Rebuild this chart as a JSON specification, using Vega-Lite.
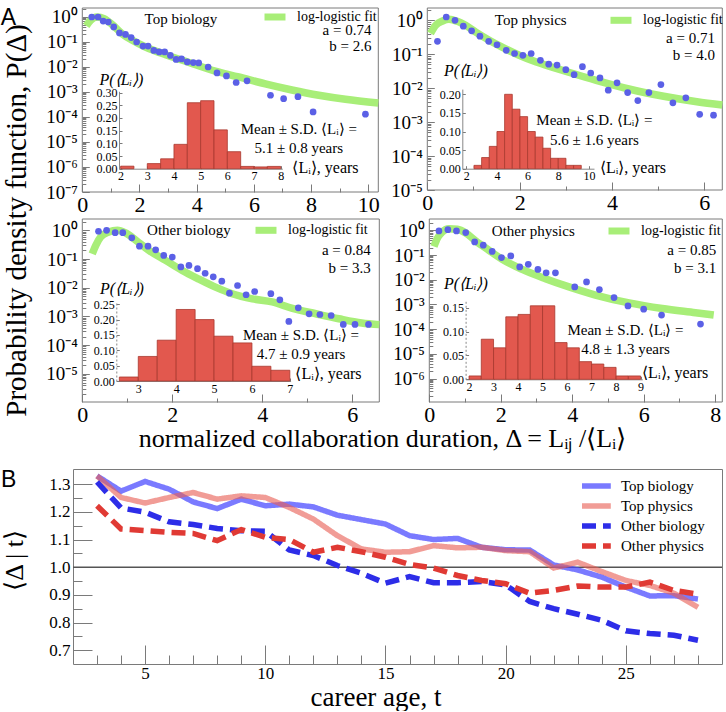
{
"$schema": "https://vega.github.io/schema/vega-lite/v6.json",
"padding": {"left": 0, "top": 0, "right": 0, "bottom": 0},
"autosize": {"type": "pad"},
"background": "white",
"config": {
  "font": "Liberation Serif",
  "view": {"stroke": "#7a7a7a", "strokeWidth": 1},
  "axis": {"domain": false, "grid": false, "labelFont": "Liberation Serif", "titleFont": "Liberation Serif", "labelColor": "#000", "titleColor": "#000", "tickColor": "#7a7a7a", "titleFontWeight": "normal", "labelOverlap": false, "labelFlush": false, "tickWidth": 1},
  "legend": {"labelFont": "Liberation Serif", "labelColor": "#000"},
  "text": {"font": "Liberation Serif", "color": "#000"},
  "title": {"font": "Liberation Sans", "fontWeight": "normal", "color": "#000"}
},
"bounds": "flush",
"spacing": 67,
"resolve": {"scale": {"color": "independent", "strokeDash": "independent"}},
"vconcat": [
 {"width": 649, "height": 394,
  "view": {"stroke": null},
  "title": {"text": "A", "orient": "top", "anchor": "start", "frame": "group", "fontSize": 23, "dx": -72.3, "dy": 47.7, "offset": 0, "baseline": "alphabetic"},
  "resolve": {"scale": {"x": "independent", "y": "independent", "color": "independent"}},
  "layer": [
   {"data": {"values": [{"b0":2,"b1":2.5,"h":0.01},{"b0":3,"b1":3.5,"h":0.02},{"b0":3.5,"b1":4,"h":0.039},{"b0":4,"b1":4.5,"h":0.096},{"b0":4.5,"b1":5,"h":0.26},{"b0":5,"b1":5.5,"h":0.268},{"b0":5.5,"b1":6,"h":0.153},{"b0":6,"b1":6.5,"h":0.067},{"b0":6.5,"b1":7,"h":0.009},{"b0":7,"b1":7.5,"h":0.007},{"b0":7.5,"b1":8,"h":0.009}]},
    "mark": {"type": "rect", "fill": "#e2584e", "stroke": "#a8382f", "strokeWidth": 0.8},
    "encoding": {
     "x": {"field": "b0", "type": "quantitative", "scale": {"domain": [1.94, 8.06], "range": [46, 209.3], "nice": false, "zero": false},
           "axis": {"orient": "bottom", "offset": -233.3, "values": [2,3,4,5,6,7,8], "format": "d", "domain": true, "domainColor": "#888", "tickSize": -3, "labelPadding": 5, "labelFontSize": 12, "labelOverlap": false, "title": "⟨Lᵢ⟩, years", "titleX": 252, "titleY": -1.7, "titleFontSize": 16, "titleAngle": 0, "titleAlign": "center", "titleBaseline": "middle"}},
     "x2": {"field": "b1"},
     "y": {"field": "h", "type": "quantitative", "scale": {"domain": [0, 0.305], "range": [160.7, 83.3], "nice": false, "zero": false},
           "axis": {"orient": "left", "offset": -46, "values": [0,0.05,0.1,0.15,0.2,0.25,0.3], "format": ".2f", "domain": true, "domainColor": "#888", "tickSize": -3, "labelPadding": 5, "labelFontSize": 12, "labelOverlap": false, "title": "P(⟨Lᵢ⟩)", "titleFontStyle": "italic", "titleX": 2, "titleY": 71, "titleFontSize": 16, "titleAngle": 0, "titleAlign": "center", "titleBaseline": "middle"}},
     "y2": {"datum": 0}
    }},
   {"layer": [
    {"data": {"values": [{}]}, "mark": {"type": "rect", "fill": "transparent", "stroke": "#7a7a7a", "strokeWidth": 1},
     "encoding": {"x": {"datum": 0}, "x2": {"datum": 10.35}, "y": {"datum": 1e-7}, "y2": {"datum": 2.29}}},
    {"data": {"values": [{"d":0.14,"p":0.44},{"d":0.29,"p":0.74},{"d":0.52,"p":1.0},{"d":0.76,"p":0.86},{"d":1.05,"p":0.49},{"d":1.4,"p":0.21},{"d":1.75,"p":0.117},{"d":2.21,"p":0.063},{"d":2.91,"p":0.031},{"d":3.61,"p":0.017},{"d":4.54,"p":0.0074},{"d":5.47,"p":0.004},{"d":6.4,"p":0.0021},{"d":7.33,"p":0.0012},{"d":8.27,"p":0.00074},{"d":9.2,"p":0.00051},{"d":10.35,"p":0.00036}]},
     "mark": {"type": "line", "strokeWidth": 7.5, "interpolate": "monotone"},
     "encoding": {
      "x": {"field": "d", "type": "quantitative", "scale": {"domain": [0, 10.35], "range": [9.3, 305.3], "nice": false, "zero": false},
            "axis": {"orient": "bottom", "offset": -210, "values": [0,1,2,3,4,5,6,7,8,9,10], "format": "d", "labelExpr": "datum.value % 2 == 0 ? datum.label : ''", "tickSize": {"condition": {"test": "datum.value % 2 == 0", "value": -8}, "value": -4}, "labelPadding": 10, "labelFontSize": 22, "labelOverlap": false, "title": null}},
      "y": {"field": "p", "type": "quantitative", "scale": {"type": "log", "domain": [1e-7, 2.29], "range": [184, 0], "nice": false},
            "axis": {"orient": "left", "offset": -9.3, "values": [1e-7,2e-7,3e-7,4e-7,5e-7,6e-7,7e-7,8e-7,9e-7,1e-6,2e-6,3e-6,4e-6,5e-6,6e-6,7e-6,8e-6,9e-6,1e-5,2e-5,3e-5,4e-5,5e-5,6e-5,7e-5,8e-5,9e-5,1e-4,2e-4,3e-4,4e-4,5e-4,6e-4,7e-4,8e-4,9e-4,0.001,0.002,0.003,0.004,0.005,0.006,0.007,0.008,0.009,0.01,0.02,0.03,0.04,0.05,0.06,0.07,0.08,0.09,0.1,0.2,0.3,0.4,0.5,0.6,0.7,0.8,0.9,1,2],
                     "labelExpr": "abs(log(datum.value)/LN10-round(log(datum.value)/LN10))<0.001 ? ['10⁰','10⁻¹','10⁻²','10⁻³','10⁻⁴','10⁻⁵','10⁻⁶','10⁻⁷'][-round(log(datum.value)/LN10)] : ''",
                     "tickSize": {"condition": {"test": "abs(log(datum.value)/LN10-round(log(datum.value)/LN10))<0.001", "value": -7}, "value": -3.5},
                     "labelPadding": 12, "labelFontSize": 19, "labelOverlap": false,
                     "title": "Probability density function, P(Δ)", "titleX": -66.3, "titleY": 212, "titleFontSize": 29, "titleAngle": -90, "titleAlign": "center", "titleBaseline": "middle"}},
      "color": {"datum": "log-logistic fit", "scale": {"range": ["#a8ee78"]},
                "legend": {"title": null, "orient": "none", "legendX": 188, "legendY": -5, "symbolType": "stroke", "symbolStrokeWidth": 7, "symbolSize": 441, "labelFontSize": 14, "labelOffset": 8, "padding": 0}}
     }},
    {"data": {"values": [{"d":0.33,"p":1.0},{"d":0.55,"p":1.0},{"d":0.73,"p":0.69},{"d":0.91,"p":0.63},{"d":1.1,"p":0.4},{"d":1.3,"p":0.23},{"d":1.51,"p":0.2},{"d":1.71,"p":0.15},{"d":1.9,"p":0.1},{"d":2.12,"p":0.069},{"d":2.3,"p":0.069},{"d":2.5,"p":0.046},{"d":2.69,"p":0.04},{"d":2.88,"p":0.04},{"d":3.08,"p":0.029},{"d":3.28,"p":0.02},{"d":3.47,"p":0.021},{"d":3.67,"p":0.016},{"d":3.88,"p":0.015},{"d":4.07,"p":0.0145},{"d":4.4,"p":0.01},{"d":4.71,"p":0.0058},{"d":5.04,"p":0.0044},{"d":5.38,"p":0.0024},{"d":5.76,"p":0.0028},{"d":6.58,"p":0.00074},{"d":7.04,"p":0.00054},{"d":7.54,"p":0.00065},{"d":8.07,"p":0.00016},{"d":9.9,"p":0.00013}]},
     "mark": {"type": "circle", "size": 45, "fill": "#5b60e6", "opacity": 1},
     "encoding": {"x": {"field": "d", "type": "quantitative"}, "y": {"field": "p", "type": "quantitative"}}},
    {"data": {"values": [{}]}, "mark": {"type": "text", "fontSize": 15, "align": "center", "baseline": "middle"},
     "encoding": {"x": {"datum": 3.45}, "y": {"datum": 0.83}, "text": {"value": "Top biology"}}},
    {"data": {"values": [{}]}, "mark": {"type": "text", "fontSize": 15, "align": "right", "baseline": "middle", "lineHeight": 16},
     "encoding": {"x": {"datum": 10.11}, "y": {"datum": 0.3}, "text": {"value": ["a = 0.74", "b = 2.6"]}}},
    {"data": {"values": [{}]}, "mark": {"type": "text", "fontSize": 15, "align": "center", "baseline": "middle", "lineHeight": 19},
     "encoding": {"x": {"datum": 7.57}, "y": {"datum": 3.3e-5}, "text": {"value": ["Mean ± S.D. ⟨Lᵢ⟩ =", "5.1 ± 0.8 years"]}}}
   ]},
   {"data": {"values": [{"b0":2.5,"b1":3,"h":0.009},{"b0":3,"b1":3.5,"h":0.03},{"b0":3.5,"b1":4,"h":0.06},{"b0":4,"b1":4.5,"h":0.1},{"b0":4.5,"b1":5,"h":0.2},{"b0":5,"b1":5.5,"h":0.16},{"b0":5.5,"b1":6,"h":0.14},{"b0":6,"b1":6.5,"h":0.1},{"b0":6.5,"b1":7,"h":0.085},{"b0":7,"b1":7.5,"h":0.055},{"b0":7.5,"b1":8,"h":0.028},{"b0":8,"b1":8.5,"h":0.028},{"b0":8.5,"b1":9,"h":0.009},{"b0":9,"b1":9.5,"h":0.009}]},
    "mark": {"type": "rect", "fill": "#e2584e", "stroke": "#a8382f", "strokeWidth": 0.8},
    "encoding": {
     "x": {"field": "b0", "type": "quantitative", "scale": {"domain": [1.74, 10.33], "range": [389.3, 521], "nice": false, "zero": false},
           "axis": {"orient": "bottom", "offset": -233.3, "values": [2,4,6,8,10], "format": "d", "domain": true, "domainColor": "#888", "tickSize": -3, "labelPadding": 5, "labelFontSize": 12, "labelOverlap": false, "title": "⟨Lᵢ⟩, years", "titleX": 559.5, "titleY": -1.7, "titleFontSize": 16, "titleAngle": 0, "titleAlign": "center", "titleBaseline": "middle"}},
     "x2": {"field": "b1"},
     "y": {"field": "h", "type": "quantitative", "scale": {"domain": [0, 0.214], "range": [160.7, 81.1], "nice": false, "zero": false},
           "axis": {"orient": "left", "offset": -389.3, "values": [0,0.05,0.1,0.15,0.2], "format": ".2f", "domain": true, "domainColor": "#888", "tickSize": -3, "labelPadding": 5, "labelFontSize": 12, "labelOverlap": false, "title": "P(⟨Lᵢ⟩)", "titleFontStyle": "italic", "titleX": 3, "titleY": 62.3, "titleFontSize": 16, "titleAngle": 0, "titleAlign": "center", "titleBaseline": "middle"}},
     "y2": {"datum": 0}
    }},
   {"layer": [
    {"data": {"values": [{}]}, "mark": {"type": "rect", "fill": "transparent", "stroke": "#7a7a7a", "strokeWidth": 1},
     "encoding": {"x": {"datum": 0}, "x2": {"datum": 6.39}, "y": {"datum": 1e-5}, "y2": {"datum": 2.3}}},
    {"data": {"values": [{"d":0.07,"p":0.41},{"d":0.18,"p":0.71},{"d":0.33,"p":0.95},{"d":0.47,"p":1.07},{"d":0.65,"p":0.93},{"d":0.83,"p":0.71},{"d":1.05,"p":0.45},{"d":1.34,"p":0.26},{"d":1.63,"p":0.16},{"d":1.99,"p":0.093},{"d":2.36,"p":0.059},{"d":2.72,"p":0.041},{"d":3.08,"p":0.029},{"d":3.66,"p":0.017},{"d":4.39,"p":0.0093},{"d":5.12,"p":0.0058},{"d":5.84,"p":0.004},{"d":6.39,"p":0.0032}]},
     "mark": {"type": "line", "strokeWidth": 7.5, "interpolate": "monotone"},
     "encoding": {
      "x": {"field": "d", "type": "quantitative", "scale": {"domain": [0, 6.39], "range": [354.3, 649.3], "nice": false, "zero": false},
            "axis": {"orient": "bottom", "offset": -212, "values": [0,1,2,3,4,5,6], "format": "d", "labelExpr": "datum.value % 2 == 0 ? datum.label : ''", "tickSize": {"condition": {"test": "datum.value % 2 == 0", "value": -8}, "value": -4}, "labelPadding": 10, "labelFontSize": 22, "labelOverlap": false, "title": null}},
      "y": {"field": "p", "type": "quantitative", "scale": {"type": "log", "domain": [1e-5, 2.3], "range": [182, 0], "nice": false},
            "axis": {"orient": "left", "offset": -354.3, "values": [1e-5,2e-5,3e-5,4e-5,5e-5,6e-5,7e-5,8e-5,9e-5,1e-4,2e-4,3e-4,4e-4,5e-4,6e-4,7e-4,8e-4,9e-4,0.001,0.002,0.003,0.004,0.005,0.006,0.007,0.008,0.009,0.01,0.02,0.03,0.04,0.05,0.06,0.07,0.08,0.09,0.1,0.2,0.3,0.4,0.5,0.6,0.7,0.8,0.9,1,2],
                     "labelExpr": "abs(log(datum.value)/LN10-round(log(datum.value)/LN10))<0.001 ? ['10⁰','10⁻¹','10⁻²','10⁻³','10⁻⁴','10⁻⁵','10⁻⁶','10⁻⁷'][-round(log(datum.value)/LN10)] : ''",
                     "tickSize": {"condition": {"test": "abs(log(datum.value)/LN10-round(log(datum.value)/LN10))<0.001", "value": -7}, "value": -3.5},
                     "labelPadding": 12, "labelFontSize": 19, "labelOverlap": false, "title": null}},
      "color": {"datum": "log-logistic fit", "scale": {"range": ["#a8ee78"]},
                "legend": {"title": null, "orient": "none", "legendX": 534, "legendY": -1.7, "symbolType": "stroke", "symbolStrokeWidth": 7, "symbolSize": 441, "labelFontSize": 14, "labelOffset": 8, "padding": 0}}
     }},
    {"data": {"values": [{"d":0.22,"p":0.24},{"d":0.41,"p":1.25},{"d":0.6,"p":1.0},{"d":0.78,"p":0.67},{"d":0.96,"p":0.49},{"d":1.14,"p":0.34},{"d":1.33,"p":0.24},{"d":1.51,"p":0.19},{"d":1.71,"p":0.13},{"d":1.89,"p":0.105},{"d":2.07,"p":0.093},{"d":2.25,"p":0.105},{"d":2.45,"p":0.066},{"d":2.63,"p":0.051},{"d":2.81,"p":0.048},{"d":3.0,"p":0.035},{"d":3.18,"p":0.025},{"d":3.36,"p":0.043},{"d":3.54,"p":0.028},{"d":3.74,"p":0.02},{"d":3.92,"p":0.0087},{"d":4.11,"p":0.0144},{"d":4.34,"p":0.0074},{"d":4.56,"p":0.0043},{"d":4.8,"p":0.0074},{"d":5.06,"p":0.0128},{"d":5.32,"p":0.0037},{"d":5.6,"p":0.0052},{"d":5.9,"p":0.0017},{"d":6.2,"p":0.0016}]},
     "mark": {"type": "circle", "size": 45, "fill": "#5b60e6", "opacity": 1},
     "encoding": {"x": {"field": "d", "type": "quantitative"}, "y": {"field": "p", "type": "quantitative"}}},
    {"data": {"values": [{}]}, "mark": {"type": "text", "fontSize": 15, "align": "center", "baseline": "middle"},
     "encoding": {"x": {"datum": 2.24}, "y": {"datum": 1.0}, "text": {"value": "Top physics"}}},
    {"data": {"values": [{}]}, "mark": {"type": "text", "fontSize": 15, "align": "right", "baseline": "middle", "lineHeight": 17},
     "encoding": {"x": {"datum": 6.23}, "y": {"datum": 0.3}, "text": {"value": ["a = 0.71", "b = 4.0"]}}},
    {"data": {"values": [{}]}, "mark": {"type": "text", "fontSize": 15, "align": "center", "baseline": "middle", "lineHeight": 20},
     "encoding": {"x": {"datum": 3.62}, "y": {"datum": 1.17e-3}, "text": {"value": ["Mean ± S.D. ⟨Lᵢ⟩ =", "5.6 ± 1.6 years"]}}}
   ]},
   {"data": {"values": [{"b0":2.5,"b1":3,"h":0.013},{"b0":3,"b1":3.5,"h":0.08},{"b0":3.5,"b1":4,"h":0.133},{"b0":4,"b1":4.5,"h":0.233},{"b0":4.5,"b1":5,"h":0.2},{"b0":5,"b1":5.5,"h":0.146},{"b0":5.5,"b1":6,"h":0.124},{"b0":6,"b1":6.5,"h":0.048},{"b0":6.5,"b1":7,"h":0.035}]},
    "mark": {"type": "rect", "fill": "#e2584e", "stroke": "#a8382f", "strokeWidth": 0.8},
    "encoding": {
     "x": {"field": "b0", "type": "quantitative", "scale": {"domain": [2.42, 7.02], "range": [43.3, 217.6], "nice": false, "zero": false},
           "axis": {"orient": "bottom", "offset": -21, "values": [3,4,5,6,7], "format": "d", "domain": true, "domainColor": "#888", "tickSize": -3, "labelPadding": 5, "labelFontSize": 12, "labelOverlap": false, "title": "⟨Lᵢ⟩, years", "titleX": 255, "titleY": -7.3, "titleFontSize": 16, "titleAngle": 0, "titleAlign": "center", "titleBaseline": "middle"}},
     "x2": {"field": "b1"},
     "y": {"field": "h", "type": "quantitative", "scale": {"domain": [0, 0.258], "range": [373, 293.8], "nice": false, "zero": false},
           "axis": {"orient": "left", "offset": -43.3, "values": [0,0.05,0.1,0.15,0.2,0.25], "format": ".2f", "domain": true, "domainColor": "#888", "domainDash": [2,2], "tickSize": -3, "labelPadding": 5, "labelFontSize": 12, "labelOverlap": false, "title": "P(⟨Lᵢ⟩)", "titleFontStyle": "italic", "titleX": 5.2, "titleY": 280.7, "titleFontSize": 16, "titleAngle": 0, "titleAlign": "center", "titleBaseline": "middle"}},
     "y2": {"datum": 0}
    }},
   {"layer": [
    {"data": {"values": [{}]}, "mark": {"type": "rect", "fill": "transparent", "stroke": "#7a7a7a", "strokeWidth": 1},
     "encoding": {"x": {"datum": 0}, "x2": {"datum": 6.6}, "y": {"datum": 1.05e-6}, "y2": {"datum": 2.48}}},
    {"data": {"values": [{"d":0.22,"p":0.15},{"d":0.3,"p":0.3},{"d":0.41,"p":0.59},{"d":0.59,"p":0.87},{"d":0.78,"p":1.0},{"d":0.96,"p":0.81},{"d":1.19,"p":0.45},{"d":1.48,"p":0.2},{"d":1.85,"p":0.09},{"d":2.22,"p":0.04},{"d":2.59,"p":0.02},{"d":2.96,"p":0.0105},{"d":3.33,"p":0.0062},{"d":3.78,"p":0.0041},{"d":4.22,"p":0.0032},{"d":4.67,"p":0.0019},{"d":5.19,"p":0.00124},{"d":5.7,"p":0.00083},{"d":6.21,"p":0.00059},{"d":6.6,"p":0.00052}]},
     "mark": {"type": "line", "strokeWidth": 7.5, "interpolate": "monotone"},
     "encoding": {
      "x": {"field": "d", "type": "quantitative", "scale": {"domain": [0, 6.6], "range": [9.3, 306.3], "nice": false, "zero": false},
            "axis": {"orient": "bottom", "offset": 0, "values": [0,1,2,3,4,5,6], "format": "d", "labelExpr": "datum.value % 2 == 0 ? datum.label : ''", "tickSize": {"condition": {"test": "datum.value % 2 == 0", "value": -8}, "value": -4}, "labelPadding": 10, "labelFontSize": 22, "labelOverlap": false,
                     "title": "normalized collaboration duration, Δ = Lᵢⱼ /⟨Lᵢ⟩", "titleX": 309, "titleY": 36.7, "titleFontSize": 26, "titleAlign": "center", "titleBaseline": "middle"}},
      "y": {"field": "p", "type": "quantitative", "scale": {"type": "log", "domain": [1.05e-6, 2.48], "range": [394, 211], "nice": false},
            "axis": {"orient": "left", "offset": -9.3, "values": [2e-6,3e-6,4e-6,5e-6,6e-6,7e-6,8e-6,9e-6,1e-5,2e-5,3e-5,4e-5,5e-5,6e-5,7e-5,8e-5,9e-5,1e-4,2e-4,3e-4,4e-4,5e-4,6e-4,7e-4,8e-4,9e-4,0.001,0.002,0.003,0.004,0.005,0.006,0.007,0.008,0.009,0.01,0.02,0.03,0.04,0.05,0.06,0.07,0.08,0.09,0.1,0.2,0.3,0.4,0.5,0.6,0.7,0.8,0.9,1,2],
                     "labelExpr": "abs(log(datum.value)/LN10-round(log(datum.value)/LN10))<0.001 ? ['10⁰','10⁻¹','10⁻²','10⁻³','10⁻⁴','10⁻⁵','10⁻⁶','10⁻⁷'][-round(log(datum.value)/LN10)] : ''",
                     "tickSize": {"condition": {"test": "abs(log(datum.value)/LN10-round(log(datum.value)/LN10))<0.001", "value": -7}, "value": -3.5},
                     "labelPadding": 12, "labelFontSize": 19, "labelOverlap": false, "title": null}},
      "color": {"datum": "log-logistic fit", "scale": {"range": ["#a8ee78"]},
                "legend": {"title": null, "orient": "none", "legendX": 179, "legendY": 208.3, "symbolType": "stroke", "symbolStrokeWidth": 7, "symbolSize": 441, "labelFontSize": 14, "labelOffset": 8, "padding": 0}}
     }},
    {"data": {"values": [{"d":0.36,"p":0.93},{"d":0.54,"p":1.0},{"d":0.73,"p":0.83},{"d":0.9,"p":0.83},{"d":1.1,"p":0.55},{"d":1.27,"p":0.28},{"d":1.46,"p":0.28},{"d":1.63,"p":0.21},{"d":1.81,"p":0.134},{"d":2.0,"p":0.117},{"d":2.19,"p":0.053},{"d":2.37,"p":0.06},{"d":2.56,"p":0.046},{"d":2.73,"p":0.032},{"d":2.91,"p":0.024},{"d":3.1,"p":0.017},{"d":3.27,"p":0.0065},{"d":3.45,"p":0.012},{"d":3.64,"p":0.0057},{"d":3.83,"p":0.0074},{"d":4.19,"p":0.0062},{"d":4.39,"p":0.0038},{"d":4.59,"p":0.00067},{"d":4.8,"p":0.002},{"d":5.04,"p":0.00124},{"d":5.28,"p":0.00117},{"d":5.53,"p":0.00108},{"d":5.8,"p":0.00053},{"d":6.06,"p":0.00053},{"d":6.36,"p":0.00053}]},
     "mark": {"type": "circle", "size": 45, "fill": "#5b60e6", "opacity": 1},
     "encoding": {"x": {"field": "d", "type": "quantitative"}, "y": {"field": "p", "type": "quantitative"}}},
    {"data": {"values": [{}]}, "mark": {"type": "text", "fontSize": 15, "align": "center", "baseline": "middle"},
     "encoding": {"x": {"datum": 2.37}, "y": {"datum": 1.0}, "text": {"value": "Other biology"}}},
    {"data": {"values": [{}]}, "mark": {"type": "text", "fontSize": 15, "align": "right", "baseline": "middle", "lineHeight": 18},
     "encoding": {"x": {"datum": 6.41}, "y": {"datum": 0.2}, "text": {"value": ["a = 0.84", "b = 3.3"]}}},
    {"data": {"values": [{}]}, "mark": {"type": "text", "fontSize": 15, "align": "center", "baseline": "middle", "lineHeight": 19},
     "encoding": {"x": {"datum": 4.86}, "y": {"datum": 2.2e-4}, "text": {"value": ["Mean ± S.D. ⟨Lᵢ⟩ =", "4.7 ± 0.9 years"]}}}
   ]},
   {"data": {"values": [{"b0":2,"b1":2.5,"h":0.007},{"b0":2.5,"b1":3,"h":0.084},{"b0":3,"b1":3.5,"h":0.066},{"b0":3.5,"b1":4,"h":0.131},{"b0":4,"b1":4.5,"h":0.136},{"b0":4.5,"b1":5,"h":0.154},{"b0":5,"b1":5.5,"h":0.154},{"b0":5.5,"b1":6,"h":0.077},{"b0":6,"b1":6.5,"h":0.066},{"b0":6.5,"b1":7,"h":0.037},{"b0":7,"b1":7.5,"h":0.032},{"b0":7.5,"b1":8,"h":0.025},{"b0":8,"b1":8.5,"h":0.007},{"b0":8.5,"b1":9,"h":0.007}]},
    "mark": {"type": "rect", "fill": "#e2584e", "stroke": "#a8382f", "strokeWidth": 0.8},
    "encoding": {
     "x": {"field": "b0", "type": "quantitative", "scale": {"domain": [1.86, 9.07], "range": [392.6, 569.3], "nice": false, "zero": false},
           "axis": {"orient": "bottom", "offset": -22.7, "values": [2,3,4,5,6,7,8,9], "format": "d", "domain": true, "domainColor": "#888", "tickSize": -3, "labelPadding": 5, "labelFontSize": 12, "labelOverlap": false, "title": "⟨Lᵢ⟩, years", "titleX": 601.7, "titleY": -6.6, "titleFontSize": 16, "titleAngle": 0, "titleAlign": "center", "titleBaseline": "middle"}},
     "x2": {"field": "b1"},
     "y": {"field": "h", "type": "quantitative", "scale": {"domain": [0, 0.166], "range": [371.3, 292.1], "nice": false, "zero": false},
           "axis": {"orient": "left", "offset": -392.6, "values": [0,0.05,0.1,0.15], "format": ".2f", "domain": true, "domainColor": "#888", "domainDash": [2,2], "tickSize": -3, "labelPadding": 5, "labelFontSize": 12, "labelOverlap": false, "title": "P(⟨Lᵢ⟩)", "titleFontStyle": "italic", "titleX": -0.3, "titleY": 275.7, "titleFontSize": 16, "titleAngle": 0, "titleAlign": "center", "titleBaseline": "middle"}},
     "y2": {"datum": 0}
    }},
   {"layer": [
    {"data": {"values": [{}]}, "mark": {"type": "rect", "fill": "transparent", "stroke": "#7a7a7a", "strokeWidth": 1},
     "encoding": {"x": {"datum": 0}, "x2": {"datum": 8.2}, "y": {"datum": 1.12e-7}, "y2": {"datum": 2.87}}},
    {"data": {"values": [{"d":0.13,"p":0.22},{"d":0.22,"p":0.46},{"d":0.36,"p":0.85},{"d":0.55,"p":1.17},{"d":0.78,"p":1.1},{"d":1.02,"p":0.78},{"d":1.3,"p":0.37},{"d":1.67,"p":0.155},{"d":2.04,"p":0.067},{"d":2.6,"p":0.026},{"d":3.25,"p":0.011},{"d":3.91,"p":0.0051},{"d":4.65,"p":0.0024},{"d":5.59,"p":0.00115},{"d":6.52,"p":0.00068},{"d":7.45,"p":0.00046},{"d":7.96,"p":0.00037}]},
     "mark": {"type": "line", "strokeWidth": 7.5, "interpolate": "monotone"},
     "encoding": {
      "x": {"field": "d", "type": "quantitative", "scale": {"domain": [0, 8.2], "range": [356.3, 649.3], "nice": false, "zero": false},
            "axis": {"orient": "bottom", "offset": 0, "values": [0,1,2,3,4,5,6,7,8], "format": "d", "labelExpr": "datum.value % 2 == 0 ? datum.label : ''", "tickSize": {"condition": {"test": "datum.value % 2 == 0", "value": -8}, "value": -4}, "labelPadding": 10, "labelFontSize": 22, "labelOverlap": false, "title": null}},
      "y": {"field": "p", "type": "quantitative", "scale": {"type": "log", "domain": [1.12e-7, 2.87], "range": [394, 211], "nice": false},
            "axis": {"orient": "left", "offset": -356.3, "values": [2e-7,3e-7,4e-7,5e-7,6e-7,7e-7,8e-7,9e-7,1e-6,2e-6,3e-6,4e-6,5e-6,6e-6,7e-6,8e-6,9e-6,1e-5,2e-5,3e-5,4e-5,5e-5,6e-5,7e-5,8e-5,9e-5,1e-4,2e-4,3e-4,4e-4,5e-4,6e-4,7e-4,8e-4,9e-4,0.001,0.002,0.003,0.004,0.005,0.006,0.007,0.008,0.009,0.01,0.02,0.03,0.04,0.05,0.06,0.07,0.08,0.09,0.1,0.2,0.3,0.4,0.5,0.6,0.7,0.8,0.9,1,2],
                     "labelExpr": "abs(log(datum.value)/LN10-round(log(datum.value)/LN10))<0.001 ? ['10⁰','10⁻¹','10⁻²','10⁻³','10⁻⁴','10⁻⁵','10⁻⁶','10⁻⁷'][-round(log(datum.value)/LN10)] : ''",
                     "tickSize": {"condition": {"test": "abs(log(datum.value)/LN10-round(log(datum.value)/LN10))<0.001", "value": -7}, "value": -3.5},
                     "labelPadding": 12, "labelFontSize": 19, "labelOverlap": false, "title": null}},
      "color": {"datum": "log-logistic fit", "scale": {"range": ["#a8ee78"]},
                "legend": {"title": null, "orient": "none", "legendX": 532, "legendY": 209, "symbolType": "stroke", "symbolStrokeWidth": 7, "symbolSize": 441, "labelFontSize": 14, "labelOffset": 8, "padding": 0}}
     }},
    {"data": {"values": [{"d":0.27,"p":0.94},{"d":0.52,"p":1.06},{"d":0.76,"p":0.94},{"d":1.02,"p":0.81},{"d":1.27,"p":0.34},{"d":1.51,"p":0.25},{"d":1.76,"p":0.14},{"d":2.02,"p":0.079},{"d":2.28,"p":0.092},{"d":2.53,"p":0.033},{"d":2.77,"p":0.042},{"d":3.04,"p":0.026},{"d":3.27,"p":0.019},{"d":3.53,"p":0.019},{"d":4.07,"p":0.0051},{"d":4.4,"p":0.0081},{"d":4.76,"p":0.004},{"d":5.17,"p":0.0019},{"d":5.56,"p":0.00087},{"d":6.0,"p":0.00064},{"d":6.5,"p":0.00037},{"d":7.59,"p":0.00016}]},
     "mark": {"type": "circle", "size": 45, "fill": "#5b60e6", "opacity": 1},
     "encoding": {"x": {"field": "d", "type": "quantitative"}, "y": {"field": "p", "type": "quantitative"}}},
    {"data": {"values": [{}]}, "mark": {"type": "text", "fontSize": 15, "align": "center", "baseline": "middle"},
     "encoding": {"x": {"datum": 2.91}, "y": {"datum": 0.93}, "text": {"value": "Other physics"}}},
    {"data": {"values": [{}]}, "mark": {"type": "text", "fontSize": 15, "align": "right", "baseline": "middle", "lineHeight": 18},
     "encoding": {"x": {"datum": 8.03}, "y": {"datum": 0.155}, "text": {"value": ["a = 0.85", "b = 3.1"]}}},
    {"data": {"values": [{}]}, "mark": {"type": "text", "fontSize": 15, "align": "center", "baseline": "middle", "lineHeight": 19},
     "encoding": {"x": {"datum": 5.49}, "y": {"datum": 8.9e-5}, "text": {"value": ["Mean ± S.D. ⟨Lᵢ⟩ =", "4.8 ± 1.3 years"]}}}
   ]}
  ]
 },
 {"width": 649, "height": 195,
  "title": {"text": "B", "orient": "top", "anchor": "start", "frame": "group", "fontSize": 23, "dx": -72, "dy": 45, "offset": 0, "baseline": "alphabetic"},
  "resolve": {"scale": {"y": "independent"}},
  "layer": [
   {"data": {"values": [{"ref": 1}]}, "mark": {"type": "rule", "color": "#555", "strokeWidth": 1.5},
    "encoding": {"y": {"field": "ref", "type": "quantitative", "scale": {"domain": [0.65, 1.355], "nice": false, "zero": false},
                       "axis": {"orient": "left", "values": [0.75,0.85,0.95,1.05,1.15,1.25], "labels": false, "tickSize": -9, "title": null}}}},
   {"data": {"values": [
     {"t":3,"s":"Top biology","v":1.33},{"t":4,"s":"Top biology","v":1.275},{"t":5,"s":"Top biology","v":1.31},{"t":6,"s":"Top biology","v":1.282},{"t":7,"s":"Top biology","v":1.236},{"t":8,"s":"Top biology","v":1.212},{"t":9,"s":"Top biology","v":1.246},{"t":10,"s":"Top biology","v":1.222},{"t":11,"s":"Top biology","v":1.228},{"t":12,"s":"Top biology","v":1.218},{"t":13,"s":"Top biology","v":1.188},{"t":14,"s":"Top biology","v":1.172},{"t":15,"s":"Top biology","v":1.156},{"t":16,"s":"Top biology","v":1.114},{"t":17,"s":"Top biology","v":1.1},{"t":18,"s":"Top biology","v":1.104},{"t":19,"s":"Top biology","v":1.072},{"t":20,"s":"Top biology","v":1.063},{"t":21,"s":"Top biology","v":1.062},{"t":22,"s":"Top biology","v":1.008},{"t":23,"s":"Top biology","v":0.99},{"t":24,"s":"Top biology","v":0.964},{"t":25,"s":"Top biology","v":0.928},{"t":26,"s":"Top biology","v":0.896},{"t":27,"s":"Top biology","v":0.897},{"t":28,"s":"Top biology","v":0.885},
     {"t":3,"s":"Top physics","v":1.33},{"t":4,"s":"Top physics","v":1.252},{"t":5,"s":"Top physics","v":1.232},{"t":6,"s":"Top physics","v":1.252},{"t":7,"s":"Top physics","v":1.27},{"t":8,"s":"Top physics","v":1.246},{"t":9,"s":"Top physics","v":1.258},{"t":10,"s":"Top physics","v":1.252},{"t":11,"s":"Top physics","v":1.216},{"t":12,"s":"Top physics","v":1.174},{"t":13,"s":"Top physics","v":1.114},{"t":14,"s":"Top physics","v":1.066},{"t":15,"s":"Top physics","v":1.054},{"t":16,"s":"Top physics","v":1.056},{"t":17,"s":"Top physics","v":1.078},{"t":18,"s":"Top physics","v":1.07},{"t":19,"s":"Top physics","v":1.072},{"t":20,"s":"Top physics","v":1.06},{"t":21,"s":"Top physics","v":1.056},{"t":22,"s":"Top physics","v":0.997},{"t":23,"s":"Top physics","v":1.018},{"t":24,"s":"Top physics","v":0.984},{"t":25,"s":"Top physics","v":0.952},{"t":26,"s":"Top physics","v":0.934},{"t":27,"s":"Top physics","v":0.906},{"t":28,"s":"Top physics","v":0.855},
     {"t":3,"s":"Other biology","v":1.308},{"t":4,"s":"Other biology","v":1.214},{"t":5,"s":"Other biology","v":1.199},{"t":6,"s":"Other biology","v":1.164},{"t":7,"s":"Other biology","v":1.154},{"t":8,"s":"Other biology","v":1.14},{"t":9,"s":"Other biology","v":1.132},{"t":10,"s":"Other biology","v":1.13},{"t":11,"s":"Other biology","v":1.062},{"t":12,"s":"Other biology","v":1.042},{"t":13,"s":"Other biology","v":1.006},{"t":14,"s":"Other biology","v":0.978},{"t":15,"s":"Other biology","v":0.942},{"t":16,"s":"Other biology","v":0.966},{"t":17,"s":"Other biology","v":0.944},{"t":18,"s":"Other biology","v":0.944},{"t":19,"s":"Other biology","v":0.948},{"t":20,"s":"Other biology","v":0.936},{"t":21,"s":"Other biology","v":0.876},{"t":22,"s":"Other biology","v":0.85},{"t":23,"s":"Other biology","v":0.83},{"t":24,"s":"Other biology","v":0.808},{"t":25,"s":"Other biology","v":0.77},{"t":26,"s":"Other biology","v":0.76},{"t":27,"s":"Other biology","v":0.754},{"t":28,"s":"Other biology","v":0.736},
     {"t":3,"s":"Other physics","v":1.222},{"t":4,"s":"Other physics","v":1.138},{"t":5,"s":"Other physics","v":1.132},{"t":6,"s":"Other physics","v":1.126},{"t":7,"s":"Other physics","v":1.122},{"t":8,"s":"Other physics","v":1.096},{"t":9,"s":"Other physics","v":1.136},{"t":10,"s":"Other physics","v":1.108},{"t":11,"s":"Other physics","v":1.1},{"t":12,"s":"Other physics","v":1.054},{"t":13,"s":"Other physics","v":1.072},{"t":14,"s":"Other physics","v":1.056},{"t":15,"s":"Other physics","v":1.036},{"t":16,"s":"Other physics","v":1.01},{"t":17,"s":"Other physics","v":0.997},{"t":18,"s":"Other physics","v":0.97},{"t":19,"s":"Other physics","v":0.952},{"t":20,"s":"Other physics","v":0.94},{"t":21,"s":"Other physics","v":0.906},{"t":22,"s":"Other physics","v":0.916},{"t":23,"s":"Other physics","v":0.932},{"t":24,"s":"Other physics","v":0.928},{"t":25,"s":"Other physics","v":0.928},{"t":26,"s":"Other physics","v":0.946},{"t":27,"s":"Other physics","v":0.916},{"t":28,"s":"Other physics","v":0.902}
    ]},
    "mark": {"type": "line", "strokeWidth": 5.5},
    "encoding": {
     "x": {"field": "t", "type": "quantitative", "scale": {"domain": [2, 29], "nice": false, "zero": false},
           "axis": {"orient": "bottom", "values": [3,4,5,6,7,8,9,10,11,12,13,14,15,16,17,18,19,20,21,22,23,24,25,26,27,28], "format": "d", "labelExpr": "datum.value % 5 == 0 ? datum.label : ''", "tickSize": {"condition": {"test": "datum.value % 5 == 0", "value": -19}, "value": -9}, "labelPadding": 20, "labelFontSize": 17, "labelOverlap": false,
                    "title": "career age, t", "titleX": 302.5, "titleY": 33, "titleFontSize": 27, "titleAlign": "center", "titleBaseline": "middle"}},
     "y": {"field": "v", "type": "quantitative", "scale": {"domain": [0.65, 1.355], "nice": false, "zero": false},
           "axis": {"orient": "left", "values": [0.7,0.8,0.9,1,1.1,1.2,1.3], "format": ".1f", "tickSize": -19, "labelPadding": 22, "labelFontSize": 17, "labelOverlap": false,
                    "title": "⟨Δ | t⟩", "titleX": -58.5, "titleY": 91, "titleFontSize": 26, "titleAngle": -90, "titleAlign": "center", "titleBaseline": "middle"}},
     "color": {"field": "s", "type": "nominal", "scale": {"domain": ["Top biology","Top physics","Other biology","Other physics"], "range": ["rgba(70,70,255,0.72)","rgba(232,95,85,0.62)","#2d2de8","#e03a34"]},
               "legend": {"title": null, "orient": "none", "legendX": 514.4, "legendY": 8, "symbolType": "M-2.4,0H2.4", "symbolStrokeWidth": 5.5, "symbolSize": 144, "labelFontSize": 15, "labelOffset": 15.6, "padding": 0, "rowPadding": -5}},
     "strokeDash": {"field": "s", "type": "nominal", "scale": {"domain": ["Top biology","Top physics","Other biology","Other physics"], "range": [[1,0],[1,0],[14,7],[14,7]]},
               "legend": {"title": null, "orient": "none", "legendX": 514.4, "legendY": 8, "symbolType": "M-2.4,0H2.4", "symbolStrokeWidth": 5.5, "symbolSize": 144, "labelFontSize": 15, "labelOffset": 15.6, "padding": 0, "rowPadding": -5}}
    }}
  ]
 }
]
}
